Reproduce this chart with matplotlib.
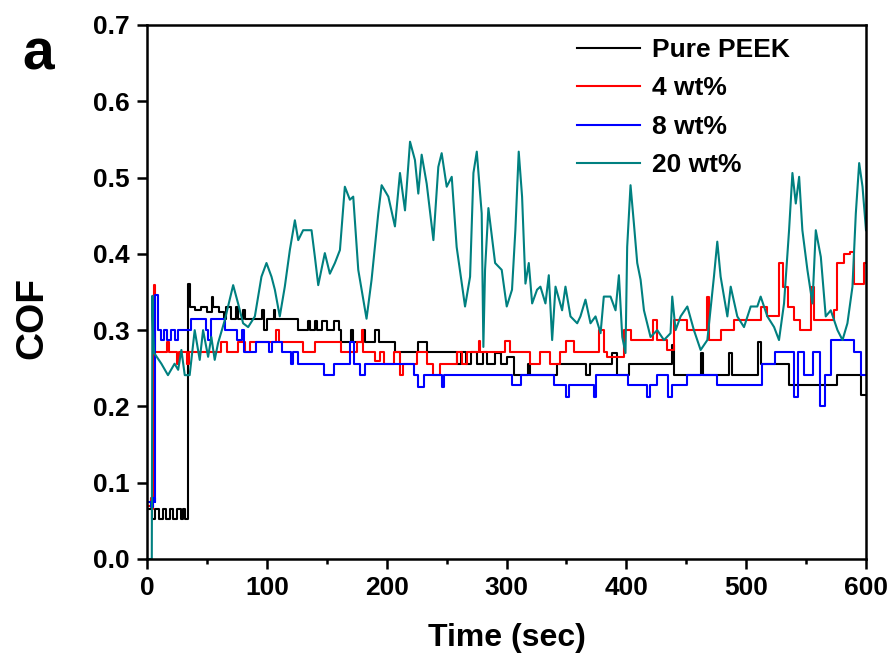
import matplotlib
matplotlib.use("Agg")
import matplotlib.pyplot as plt
from matplotlib.ticker import MultipleLocator, FormatStrFormatter

# ---- data: sliding time (s) and coefficient of friction ----
time_pure = [0, 4, 7, 10, 13, 16, 19, 22, 25, 28, 30, 32, 34, 34.5, 36, 40, 45, 50, 54, 55,
             60, 64, 66, 70, 74, 76, 80, 82, 95, 96, 98, 100, 106, 107, 126, 130, 134, 136,
             140, 142, 146, 150, 156, 160, 162, 170, 172, 180, 182, 190, 194, 207, 226, 234,
             258, 259, 262, 266, 270, 275, 280, 284, 290, 295, 300, 306, 318, 320, 336, 342,
             364, 366, 370, 386, 388, 392, 402, 432, 438, 440, 462, 464, 486, 488, 510, 512,
             534, 536, 576, 596, 600]
cof_pure = [0.065, 0.052, 0.066, 0.052, 0.066, 0.052, 0.066, 0.052, 0.066, 0.052, 0.066, 0.052,
            0.20, 0.36, 0.33, 0.326, 0.33, 0.324, 0.344, 0.33, 0.324, 0.315, 0.33, 0.315, 0.33,
            0.315, 0.326, 0.315, 0.315, 0.326, 0.30, 0.315, 0.326, 0.315, 0.30, 0.30, 0.312,
            0.30, 0.312, 0.30, 0.312, 0.30, 0.312, 0.30, 0.285, 0.30, 0.285, 0.30, 0.285, 0.30,
            0.285, 0.272, 0.285, 0.272, 0.272, 0.256, 0.272, 0.256, 0.272, 0.256, 0.272, 0.256,
            0.27, 0.256, 0.265, 0.241, 0.256, 0.241, 0.241, 0.256, 0.256, 0.241, 0.256, 0.256,
            0.27, 0.241, 0.256, 0.256, 0.28, 0.241, 0.27, 0.241, 0.27, 0.241, 0.285, 0.256,
            0.256, 0.228, 0.241, 0.215, 0.215]

time_4wt = [0, 3, 4, 5, 5.5, 6.5, 16, 17, 18, 25, 27, 33, 35, 56, 62, 67, 76, 82, 86, 107,
            108, 110, 118, 130, 140, 162, 175, 179, 180, 190, 194.7, 197.5, 205.8, 211.4,
            214, 225.3, 233.7, 239, 244.8, 258.8, 263, 267, 276.9, 278, 299, 303, 320, 328,
            336.7, 345, 349.3, 356, 377, 381, 384, 398, 404, 422, 426, 434, 440, 451, 467,
            469, 479, 490, 512, 517, 527, 531, 535, 540, 545, 554, 557, 573, 576, 582, 587,
            590, 598, 600]
cof_4wt = [0.07, 0.08, 0.066, 0.134, 0.359, 0.272, 0.272, 0.285, 0.272, 0.256, 0.272, 0.256,
           0.272, 0.272, 0.285, 0.272, 0.285, 0.272, 0.285, 0.285, 0.30, 0.285, 0.285, 0.272,
           0.285, 0.272, 0.285, 0.30, 0.272, 0.26, 0.272, 0.256, 0.272, 0.241, 0.256, 0.272,
           0.256, 0.241, 0.256, 0.272, 0.256, 0.272, 0.286, 0.272, 0.286, 0.272, 0.256, 0.272,
           0.256, 0.272, 0.286, 0.272, 0.30, 0.272, 0.265, 0.30, 0.287, 0.313, 0.287, 0.274,
           0.313, 0.30, 0.344, 0.287, 0.30, 0.313, 0.33, 0.318, 0.388, 0.357, 0.33, 0.313,
           0.30, 0.357, 0.313, 0.326, 0.388, 0.40, 0.403, 0.361, 0.388, 0.388]

time_8wt = [0, 3, 5, 6.5, 7, 9, 12, 14, 17, 20, 23, 26, 34, 37, 48, 49, 51, 53, 64, 65, 73,
            75, 79, 81, 90, 91, 100, 102, 104, 112, 113, 120, 122, 126, 140, 148, 156, 168,
            169, 173, 178, 182, 218, 223, 226, 231, 246, 248, 295, 305, 312, 337, 340, 350,
            352, 370, 373, 375, 400, 401, 417, 420, 426, 434, 435, 438, 450, 451, 474, 476,
            512, 513, 523, 524, 539, 540, 543, 548, 556, 562, 566, 571, 587, 590, 596, 600]
cof_8wt = [0.075, 0.068, 0.08, 0.075, 0.346, 0.30, 0.287, 0.30, 0.287, 0.30, 0.287, 0.30,
           0.30, 0.315, 0.315, 0.30, 0.287, 0.315, 0.315, 0.30, 0.30, 0.287, 0.30, 0.272,
           0.272, 0.285, 0.285, 0.272, 0.285, 0.285, 0.272, 0.256, 0.272, 0.256, 0.256,
           0.241, 0.256, 0.256, 0.285, 0.256, 0.241, 0.256, 0.256, 0.241, 0.226, 0.241,
           0.226, 0.241, 0.241, 0.228, 0.241, 0.241, 0.228, 0.213, 0.228, 0.228, 0.213,
           0.241, 0.241, 0.228, 0.213, 0.228, 0.241, 0.241, 0.213, 0.228, 0.228, 0.241,
           0.241, 0.228, 0.228, 0.256, 0.256, 0.272, 0.272, 0.213, 0.272, 0.241, 0.272, 0.20,
           0.241, 0.287, 0.287, 0.272, 0.241, 0.241]

time_20wt = [0, 4, 4.5, 5, 6, 12, 17.5, 23, 26, 28.7, 31.5, 35.6, 39.8, 44, 46.8, 51, 53.7,
             56.5, 59.3, 64.9, 71.9, 76, 80.2, 84.4, 90, 95.5, 99.7, 103.9, 106.7, 110.8,
             115, 119.2, 123.4, 126.2, 130.3, 137.3, 140.1, 142.9, 148.4, 152.6, 156.8, 161,
             165.1, 169.3, 172.1, 176.3, 183.2, 187.4, 193, 195.8, 201.4, 206.9, 211.1, 215.3,
             219.5, 223.6, 226.4, 229.2, 233.4, 239, 243.1, 245.9, 250.1, 254.3, 258.4, 265.4,
             269.6, 272.4, 275.2, 279.3, 280.7, 282.1, 284.9, 290.5, 296, 300.2, 304.6, 307.4,
             310.2, 313, 315.8, 318.6, 321.4, 325.5, 328.3, 332.5, 335.3, 338.1, 340.9, 346.4,
             349.2, 353.4, 359, 361.7, 365.9, 370.1, 374.3, 378.5, 381.2, 386.8, 391, 393.8,
             396.6, 399.3, 400.7, 403.5, 406.3, 409.1, 411.9, 414.7, 420.2, 425.8, 431.4,
             436.9, 438.3, 441.1, 445.3, 450.9, 456.4, 462, 467.6, 473.1, 475.9, 478.7, 484.3,
             487.1, 492.6, 498.2, 503.8, 509.3, 512.1, 517.7, 523.3, 527.4, 531.6, 535.8,
             538.6, 541.4, 544.2, 546.9, 551.1, 555.3, 558.1, 562.3, 566.4, 570.6, 576.2,
             580.4, 584.5, 588.7, 591.5, 594.3, 597.1, 600]
cof_20wt = [0.0, 0.0, 0.345, 0.30, 0.27, 0.256, 0.241, 0.256, 0.248, 0.274, 0.241, 0.241,
            0.300, 0.261, 0.300, 0.265, 0.291, 0.261, 0.283, 0.313, 0.359, 0.335, 0.309,
            0.304, 0.318, 0.370, 0.388, 0.370, 0.353, 0.318, 0.357, 0.405, 0.444, 0.418,
            0.431, 0.431, 0.396, 0.359, 0.401, 0.374, 0.388, 0.405, 0.488, 0.471, 0.475,
            0.379, 0.315, 0.366, 0.453, 0.490, 0.475, 0.436, 0.506, 0.457, 0.547, 0.523,
            0.479, 0.530, 0.492, 0.418, 0.514, 0.532, 0.488, 0.501, 0.409, 0.331, 0.370,
            0.506, 0.534, 0.453, 0.278, 0.379, 0.460, 0.388, 0.379, 0.331, 0.353, 0.431,
            0.534, 0.475, 0.361, 0.388, 0.335, 0.353, 0.357, 0.335, 0.372, 0.287, 0.357,
            0.326, 0.357, 0.318, 0.309, 0.318, 0.340, 0.309, 0.318, 0.296, 0.344, 0.344,
            0.326, 0.372, 0.291, 0.270, 0.409, 0.490, 0.440, 0.388, 0.366, 0.326, 0.291,
            0.300, 0.287, 0.296, 0.344, 0.300, 0.318, 0.331, 0.300, 0.274, 0.287, 0.370,
            0.416, 0.370, 0.318, 0.357, 0.318, 0.304, 0.331, 0.331, 0.344, 0.318, 0.304,
            0.287, 0.335, 0.431, 0.506, 0.466, 0.501, 0.431, 0.379, 0.335, 0.431, 0.396,
            0.318, 0.326, 0.300, 0.287, 0.309, 0.357, 0.453, 0.519, 0.488, 0.431]

labels = ["Pure PEEK", "4 wt%", "8 wt%", "20 wt%"]
colors = ["#000000", "#ff0000", "#0000ff", "#008080"]

plt.rcParams["font.family"] = ["Liberation Sans", "DejaVu Sans"]
plt.rcParams["font.weight"] = "bold"

W, H = 892, 659
fig = plt.figure(figsize=(W / 100, H / 100), dpi=100)
ax = fig.add_axes([147 / W, 1 - 559 / H, (866 - 147) / W, (559 - 25) / H])

series = [(time_pure, cof_pure), (time_4wt, cof_4wt), (time_8wt, cof_8wt),
          (time_20wt, cof_20wt)]
for i, ((t, v), lab, col) in enumerate(zip(series, labels, colors)):
    style = "default" if i == 3 else "steps-post"
    ax.plot(t, v, color=col, lw=1.5, label=lab, drawstyle=style)

ax.set_xlim(0, 600)
ax.set_ylim(0, 0.7)
ax.xaxis.set_major_locator(MultipleLocator(100))
ax.xaxis.set_minor_locator(MultipleLocator(50))
ax.yaxis.set_major_locator(MultipleLocator(0.1))
ax.yaxis.set_major_formatter(FormatStrFormatter("%.1f"))

for s in ax.spines.values():
    s.set_linewidth(1.8)
ax.tick_params(which="major", direction="out", length=7.5, width=1.8,
               labelsize=19, pad=5)
ax.tick_params(which="minor", direction="out", length=3.8, width=1.8)
ax.tick_params(top=False, right=False, which="both")
for lbl in ax.get_xticklabels() + ax.get_yticklabels():
    lbl.set_fontweight("bold")

ax.set_xlabel("Time (sec)", fontsize=23, fontweight="bold", labelpad=16)
ax.set_ylabel("COF", fontsize=28, fontweight="bold")
ax.yaxis.set_label_coords(-0.134, 0.452)

leg = ax.legend(loc="upper left", bbox_to_anchor=((577 - 147) / (866 - 147), 0.976),
                frameon=False, fontsize=19, handlelength=2.4, handletextpad=0.45,
                labelspacing=0.55, borderpad=0, borderaxespad=0)
for txt in leg.get_texts():
    txt.set_fontweight("bold")
for ln in leg.get_lines():
    ln.set_linewidth(1.5)

fig.text(38 / W, 1 - 55 / H, "a", fontsize=41, fontweight="bold",
         ha="center", va="center")

fig.savefig("out.png", dpi=100)
